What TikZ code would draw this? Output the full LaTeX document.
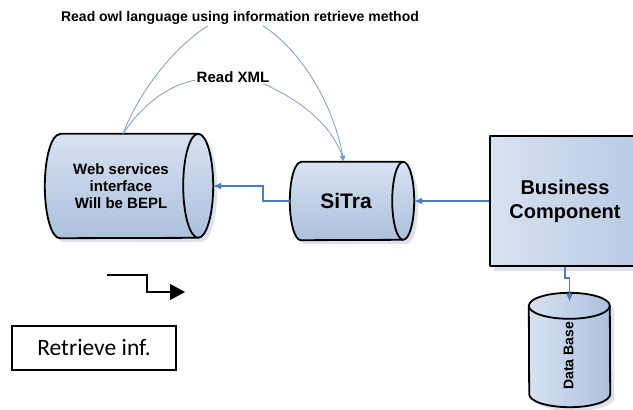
\documentclass[tikz,border=0pt]{standalone}
\usepackage{fontspec}
\setmainfont{Liberation Sans}
\newfontfamily\carlito{Carlito}
\usepackage{graphicx}
\usepackage{tikz}
\usetikzlibrary{arrows.meta,shadows,calc}
\definecolor{cyl-light}{RGB}{216,226,241}
\definecolor{cyl-dark}{RGB}{172,192,221}
\definecolor{box-dark}{RGB}{184,202,228}
\definecolor{link-blue}{RGB}{74,126,187}
\definecolor{curve-blue}{RGB}{125,155,198}
\definecolor{shadow-gray}{RGB}{222,226,234}

\tikzset{
  body/.style={inner sep=0pt, align=center, font=\bfseries},
  outline/.style={draw=black, line width=1.8pt, line join=round},
  cylfill/.style={outline, top color=cyl-light, bottom color=cyl-dark,
    drop shadow={shadow xshift=4pt, shadow yshift=-4pt, fill=shadow-gray, opacity=1}},
  link/.style={draw=link-blue, line width=1.5pt, -{Latex[length=8pt,width=7pt]}},
  curve/.style={draw=curve-blue, line width=0.8pt},
  caption/.style={font=\bfseries, inner sep=1pt}
}

\begin{document}
\begin{tikzpicture}[x=1pt, y=-1pt]

\useasboundingbox (0,0) rectangle (633,410);
\clip (0,0) rectangle (633,410);

% bodies of the cylinders
\node[body, minimum width=138pt, minimum height=104pt] (web) at (129,186) {};
\node[body, minimum width=102pt, minimum height=78pt] (sitra) at (352,201) {};
\node[body, minimum width=81pt, minimum height=88pt] (db) at (569.5,350) {};

\path[cylfill] (web.north west) -- (web.north east) arc[start angle=90, end angle=-90, x radius=15pt, y radius=52pt]
  -- (web.south west) arc[start angle=270, end angle=90, x radius=15pt, y radius=52pt] -- cycle;
\draw[outline] (web.north east) arc[start angle=90, end angle=270, x radius=15pt, y radius=52pt];

\path[cylfill] (sitra.north west) -- (sitra.north east) arc[start angle=90, end angle=-90, x radius=11pt, y radius=39pt]
  -- (sitra.south west) arc[start angle=270, end angle=90, x radius=11pt, y radius=39pt] -- cycle;
\draw[outline] (sitra.north east) arc[start angle=90, end angle=270, x radius=11pt, y radius=39pt];

\path[cylfill, left color=cyl-light, right color=cyl-dark] (db.north west) arc[start angle=180, end angle=0, x radius=40.5pt, y radius=13pt]
  -- (db.south east) arc[start angle=0, end angle=-180, x radius=40.5pt, y radius=13pt] -- cycle;
\draw[outline] (db.north west) arc[start angle=180, end angle=360, x radius=40.5pt, y radius=13pt];

\node[body, font=\bfseries\fontsize{15}{17}\selectfont] (web-text) at ([xshift=-8pt]web.center) {Web services\\interface\\Will be BEPL};
\node[body, font=\bfseries\fontsize{21}{24}\selectfont] (sitra-text) at ([xshift=-6pt]sitra.center) {SiTra};
\node[body, font=\bfseries\fontsize{14}{16}\selectfont] (db-text) at ([xshift=-1pt,yshift=-6pt]db.center) {\rotatebox{90}{Data Base}};

\node[outline, left color=cyl-light, right color=box-dark,
  minimum width=150pt, minimum height=130pt, align=center,
  font=\bfseries\fontsize{20}{24}\selectfont,
  drop shadow={shadow xshift=4pt, shadow yshift=-5pt, fill=shadow-gray, opacity=1}] (bc) at (565,201) {Business\\Component};

\node[caption, font=\bfseries\fontsize{14}{16}\selectfont] (owl) at (240,18) {Read owl language using information retrieve method};
\node[caption, font=\bfseries\fontsize{15}{17}\selectfont] (xml) at (233,77) {Read XML};

\draw[curve] ([xshift=-6pt]web.north) .. controls (138,95) and (170,50) .. ([xshift=-32pt]owl.south);
\draw[curve, -{Latex[length=6pt,width=5pt]}] ([xshift=23pt]owl.south) .. controls (300,50) and (332,100) .. ([xshift=-8pt]sitra.north);
\draw[curve] ([xshift=-6pt]web.north) .. controls (140,108) and (165,86) .. ([yshift=-3pt]xml.west);
\draw[curve, -{Latex[length=6pt,width=5pt]}] ([xshift=-7pt]xml.south east) .. controls (300,100) and (332,125) .. ([xshift=-8pt]sitra.north);

\draw[link] (bc.west) -- ([xshift=11pt]sitra.east);
\draw[link] ([xshift=-11pt]sitra.west) -- ++(-27,0) |- ([xshift=15pt]web.east);
\draw[link] (bc.south) -- ++(0,11) -| ([yshift=4pt]db.north);

% bent arrow and caption box
\coordinate (bend-in) at (107,275);
\coordinate (bend-out) at (185,292);
\draw[line width=1.3pt, -{Triangle[length=15pt,width=16pt]}] (bend-in) -- (147,275) |- (bend-out);

\node[draw, line width=1.3pt, minimum width=164pt, minimum height=44pt,
  font=\carlito\fontsize{23.5}{26}\selectfont] (retrieve) at (94,348) {Retrieve inf.};

\end{tikzpicture}
\end{document}
